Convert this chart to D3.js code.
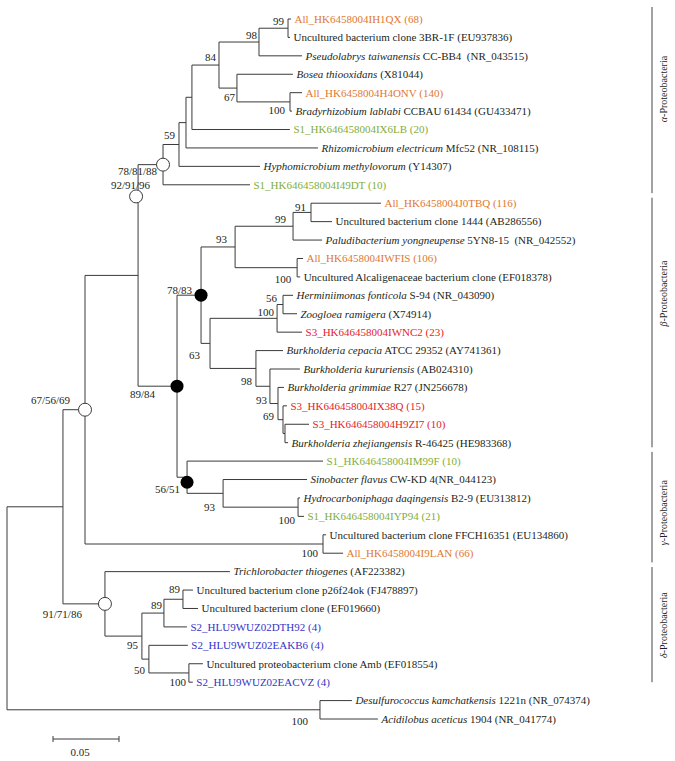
<!DOCTYPE html>
<html><head><meta charset="utf-8">
<script src="https://cdn.jsdelivr.net/npm/d3@7"></script>
<style>
body{margin:0;background:#fff}
svg{display:block}
text{font-family:"Liberation Serif","Times New Roman",serif;white-space:pre}
</style>
</head><body>
<svg id="c" width="675" height="761"></svg>
<script>
// ---------- DATA ----------
const leafItalic = ["", "", "Pseudolabrys taiwanensis", "Bosea thiooxidans", "", "Bradyrhizobium lablabi", "", "Rhizomicrobium electricum", "Hyphomicrobium methylovorum", "",
  "", "", "Paludibacterium yongneupense", "", "", "Herminiimonas fonticola", "Zoogloea ramigera", "", "Burkholderia cepacia", "Burkholderia kururiensis",
  "Burkholderia grimmiae", "", "", "Burkholderia zhejiangensis", "", "Sinobacter flavus", "Hydrocarboniphaga daqingensis", "", "", "",
  "Trichlorobacter thiogenes", "", "", "", "", "", "", "Desulfurococcus kamchatkensis", "Acidilobus aceticus"];
const leafPlain = ["All_HK6458004IH1QX (68)", "Uncultured bacterium clone 3BR-1F (EU937836)", " CC-BB4  (NR_043515)", " (X81044)", "All_HK6458004H4ONV (140)", " CCBAU 61434 (GU433471)", "S1_HK646458004IX6LB (20)", " Mfc52 (NR_108115)", " (Y14307)", "S1_HK646458004I49DT (10)",
  "All_HK6458004J0TBQ (116)", "Uncultured bacterium clone 1444 (AB286556)", " 5YN8-15  (NR_042552)", "All_HK6458004IWFIS (106)", "Uncultured Alcaligenaceae bacterium clone (EF018378)", " S-94 (NR_043090)", " (X74914)", "S3_HK646458004IWNC2 (23)", " ATCC 29352 (AY741361)", " (AB024310)",
  " R27 (JN256678)", "S3_HK646458004IX38Q (15)", "S3_HK646458004H9ZI7 (10)", " R-46425 (HE983368)", "S1_HK646458004IM99F (10)", " CW-KD 4(NR_044123)", " B2-9 (EU313812)", "S1_HK646458004IYP94 (21)", "Uncultured bacterium clone FFCH16351 (EU134860)", "All_HK6458004I9LAN (66)",
  " (AF223382)", "Uncultured bacterium clone p26f24ok (FJ478897)", "Uncultured bacterium clone (EF019660)", "S2_HLU9WUZ02DTH92 (4)", "S2_HLU9WUZ02EAKB6 (4)", "Uncultured proteobacterium clone Amb (EF018554)", "S2_HLU9WUZ02EACVZ (4)", " 1221n (NR_074374)", " 1904 (NR_041774)"];

// tree edges (child, parent, branch length in substitutions/site)
const childIds = ["I","Arch", "N67","D", "L38","L39", "N92","N100g", "L29","L30", "A","B", "N59","L10", "N186","L9", "N192","L8", "N84","L7",
  "N98a","N67a", "N99a","L3", "L1","L2", "L4","N100a", "L5","L6", "C","G", "N93a","N63", "N99b","N100c", "N91","L13", "L11","L12",
  "L14","L15", "N100e","N98b", "N56","L18", "L16","L17", "L19","N93b", "L20","N69", "L21","NX", "L22","NY", "L23","L24",
  "L25","N93c", "L26","N100f", "L27","L28", "L31","N95", "N89b","N50", "N89a","L34", "L32","L33", "L35","N100d", "L36","L37"];
const parentIds = ["R","R", "I","I", "Arch","Arch", "N67","N67", "N100g","N100g", "N92","N92", "A","A", "N59","N59", "N186","N186", "N192","N192",
  "N84","N84", "N98a","N98a", "N99a","N99a", "N67a","N67a", "N100a","N100a", "B","B", "C","C", "N93a","N93a", "N99b","N99b", "N91","N91",
  "N100c","N100c", "N63","N63", "N100e","N100e", "N56","N56", "N98b","N98b", "N93b","N93b", "N69","N69", "NX","NX", "NY","NY",
  "G","G", "N93c","N93c", "N100f","N100f", "D","D", "N95","N95", "N89b","N89b", "N89a","N89a", "N50","N50", "N100d","N100d"];
const branchLengths = [0.0424,0.2371, 0.0167,0.0318, 0.0242,0.0439, 0.0402,0.1803, 0.0023,0.0152, 0.0189,0.0295, 0.0121,0.0659, 0.0053,0.0614, 0.0045,0.1000, 0.0205,0.0742,
  0.0303,0.0136, 0.0220,0.0326, 0.0023,0.0015, 0.0424,0.0402, 0.0091,0.0015, 0.0182,0.0076, 0.0258,0.0068, 0.0439,0.0470, 0.0136,0.0220, 0.0530,0.0159,
  0.0045,0.0023, 0.0508,0.0348, 0.0045,0.0189, 0.0076,0.0106, 0.0205,0.0106, 0.0227,0.0061, 0.0045,0.0038, 0.0030,0.0015, 0.0182,0.0023,
  0.1030,0.0273, 0.0636,0.0568, 0.0015,0.0045, 0.0947,0.0280, 0.0167,0.0053, 0.0144,0.0174, 0.0076,0.0114, 0.0295,0.0303, 0.0106,0.0030];

// bootstrap supports
const supportNodes = ["N99a","N98a","N84","N67a","N100a","N59","A","N92","N91","N99b","N93a","N100c","C","N56","N100e","N63","N98b","N93b","N69","B","G","N93c","N100f","N100g","N67","D","N89a","N89b","N95","N50","N100d","Arch"];
const supportLabels = ["99","98","84","67","100","59","78/81/88","92/91/96","91","99","93","100","78/83","56","100","63","98","93","69","89/84","56/51","93","100","100","67/56/69","91/71/86","89","89","95","50","100","100"];
const openMarkerNodes = ["A","N92","N67","D"];
const filledMarkerNodes = ["B","C","G"];

const cladeLetters = ["α","β","γ","δ"];
const cladeSuffix = "-Proteobacteria";

// ---------- STYLE / LAYOUT ----------
const labelOffsets = { // right-end dx, center dy relative to node
  N99a:[-4,-7], N98a:[-2,-7], N84:[-3,-8], N67a:[-2,9], N100a:[-5,8], N59:[-4,-9], A:[-6,7], N92:[12,-90],
  N91:[-5,-5], N99b:[-7,-7], N93a:[-8,-8], N100c:[-6,11], C:[-9,-5], N56:[-6,-6], N100e:[-3,-6], N63:[-10,12],
  N98b:[-4,13], N93b:[-3,14], N69:[-4,13], B:[-22,8], G:[-7,12], N93c:[-8,14], N100f:[-3,13], N100g:[-5,9],
  N67:[-15,-10], D:[-23,10], N89a:[-3,-10], N89b:[-2,-8], N95:[-4,9], N50:[-4,11], N100d:[-3,9], Arch:[-12,11]
};
const markerShift = {N92:[-2,-79], G:[0,5]}; // annotation circles placed along the branch
const cladeRanges = [[-0.65,9.45],[9.7,23.25],[23.5,29.5],[29.75,36.0]];
const cladeLabelPos = [3.8,14.9,26.8,32.9];
const groupColor = {All:"#e0782f", S1:"#7fae3a", S2:"#3434c8", S3:"#e5222b"};
const lineColor = "#3a3a3a";

// ---------- BUILD ----------
const svg = d3.select("#c");
const rows = [{id:"R", parent:null, len:0}].concat(childIds.map((c,i)=>({id:c,parent:parentIds[i],len:branchLengths[i]})));
const root = d3.stratify().id(d=>d.id).parentId(d=>d.parent)(rows);
root.eachBefore(n=>{ n.dist = n.parent ? n.parent.dist + n.data.len : 0; });

const x = d3.scaleLinear().domain([0,0.05]).range([7,73]);
const y = d3.scaleLinear().domain([0,38]).range([19,719]);

root.eachAfter(n=>{
  if(!n.children){ n.yy = y(+n.id.slice(1)-1); }
  else { const ys = n.children.map(c=>c.yy); n.yy = (d3.min(ys)+d3.max(ys))/2; }
  n.xx = x(n.dist);
});

const g = svg.append("g");
g.selectAll("line.h").data(root.descendants().filter(n=>n.parent)).join("line")
  .attr("x1",d=>d.parent.xx).attr("x2",d=>d.xx).attr("y1",d=>d.yy).attr("y2",d=>d.yy)
  .attr("stroke",lineColor).attr("stroke-width",1);
g.selectAll("line.v").data(root.descendants().filter(n=>n.children)).join("line")
  .attr("x1",d=>d.xx).attr("x2",d=>d.xx)
  .attr("y1",d=>d3.min(d.children,c=>c.yy)).attr("y2",d=>d3.max(d.children,c=>c.yy))
  .attr("stroke",lineColor).attr("stroke-width",1);

// leaf labels
const leaves = root.leaves();
const lt = g.selectAll("text.leaf").data(leaves).join("text")
  .attr("x",d=>d.xx+3.5).attr("y",d=>d.yy).attr("dy","0.35em")
  .attr("font-size",11)
  .attr("fill",d=>{const i=+d.id.slice(1)-1; const p=leafPlain[i].split("_")[0]; return leafItalic[i]==="" && groupColor[p] ? groupColor[p] : "#231f20";});
lt.each(function(d){
  const i=+d.id.slice(1)-1; const t=d3.select(this);
  if(leafItalic[i]) t.append("tspan").attr("font-style","italic").text(leafItalic[i]);
  t.append("tspan").text(leafPlain[i]);
});

// markers
const byId = new Map(root.descendants().map(n=>[n.id,n]));
const sh = (id,k)=> (markerShift[id]||[0,0])[k];
g.selectAll("circle.o").data(openMarkerNodes).join("circle")
  .attr("cx",id=>byId.get(id).xx+sh(id,0)).attr("cy",id=>byId.get(id).yy+sh(id,1)).attr("r",6.5)
  .attr("fill","#fff").attr("stroke",lineColor).attr("stroke-width",1);
g.selectAll("circle.f").data(filledMarkerNodes).join("circle")
  .attr("cx",id=>byId.get(id).xx+sh(id,0)).attr("cy",id=>byId.get(id).yy+sh(id,1)).attr("r",6.5).attr("fill","#000");

// support labels
g.selectAll("text.sup").data(supportNodes.map((id,i)=>({n:byId.get(id),lab:supportLabels[i],id}))).join("text")
  .attr("x",d=>d.n.xx+labelOffsets[d.id][0]).attr("y",d=>d.n.yy+labelOffsets[d.id][1]).attr("dy","0.35em")
  .attr("text-anchor","end").attr("font-size",11).attr("fill","#231f20").text(d=>d.lab);

// clade brackets
const bx = 652;
cladeLetters.forEach((c,i)=>{
  g.append("line").attr("x1",bx).attr("x2",bx).attr("y1",y(cladeRanges[i][0])).attr("y2",y(cladeRanges[i][1]))
    .attr("stroke","#444").attr("stroke-width",1);
  const t = g.append("text").attr("transform",`translate(${bx+11},${y(cladeLabelPos[i])}) rotate(-90)`)
    .attr("text-anchor","middle").attr("dy","0.35em").attr("font-size",10).attr("fill","#231f20");
  t.append("tspan").attr("font-style","italic").text(c);
  t.append("tspan").text(cladeSuffix);
});

// scale bar
const sbLen = 0.05, sbX = 53, sbY = 739;
const sbW = x(sbLen)-x(0);
g.append("line").attr("x1",sbX).attr("x2",sbX+sbW).attr("y1",sbY).attr("y2",sbY).attr("stroke",lineColor);
[sbX, sbX+sbW].forEach(v=>g.append("line").attr("x1",v).attr("x2",v).attr("y1",sbY-3).attr("y2",sbY+3).attr("stroke",lineColor));
g.append("text").attr("x",sbX+sbW/2-6).attr("y",sbY+13).attr("dy","0.35em").attr("text-anchor","middle").attr("font-size",11).attr("fill","#231f20").text(sbLen.toFixed(2));
</script>
</body></html>
